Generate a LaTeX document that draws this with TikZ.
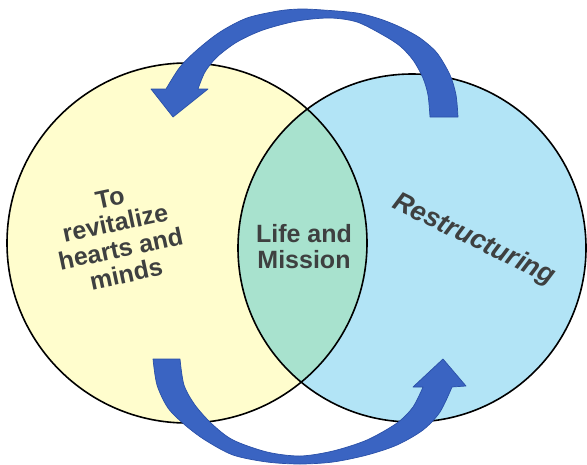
\documentclass[tikz,border=0pt]{standalone}
\usepackage{fontspec}
\setmainfont{Liberation Sans}
\usepackage{tikz}
\definecolor{leftfill}{RGB}{255,253,205}
\definecolor{rightfill}{RGB}{178,228,246}
\definecolor{lensfill}{RGB}{168,226,206}
\definecolor{textgray}{RGB}{62,64,64}
\definecolor{arrowblue}{RGB}{58,100,194}
\definecolor{arrowedge}{RGB}{42,80,168}

\begin{document}
\begin{tikzpicture}[x=1pt,y=-1pt,
		disc/.style={circle,inner sep=0pt},
		ringline/.style={draw=black,line width=1.6pt},
		venntext/.style={text=textgray,align=center,font=\bfseries\fontsize{25}{26}\selectfont},
		bluearrow/.style={fill=arrowblue,draw=arrowedge,line width=0.7pt,line join=round}]
			\useasboundingbox (0,0) rectangle (587,464);

			\node[disc,fill=leftfill,minimum size=360pt] (L) at (187,243) {};
			\node[disc,fill=rightfill,minimum size=348pt] (R) at (412,248) {};

			% overlap
			\begin{scope}
				\clip (L.center) circle (180);
				\fill[lensfill] (R.center) circle (174);
			\end{scope}

			\draw[ringline] (L.center) circle (180);
			\draw[ringline] (R.center) circle (174);

			% top arrow, right to left
			\path[bluearrow] plot[smooth] coordinates {(458,117) (456,95) (450,75) (437,53) (420,38) (400,27) (380,19) (357,13) (323,10) (300,9) (278,11) (247,18) (220,32) (197,50) (180,67) (166,89)}
				-- (151,89) -- (173,117) -- (208,89)
				-- plot[smooth] coordinates {(198,89) (205,72) (217,57) (237,42) (263,30) (297,21) (330,18) (357,22) (383,35) (400,46) (413,60) (423,78) (428,95) (430,117)}
				-- cycle;

			% bottom arrow, left to right
			\path[bluearrow] plot[smooth] coordinates {(153,359) (157,385) (168,408) (185,425) (205,440) (233,455) (267,462) (300,464) (333,462) (367,455) (397,445) (423,430) (440,412) (452,387)}
				-- (466,386) -- (443,359) -- (413,387)
				-- plot[smooth] coordinates {(423,387) (413,407) (397,423) (367,440) (333,451) (300,456) (267,452) (233,440) (212,424) (195,405) (184,385) (180,359)}
				-- cycle;

			\node[venntext,rotate=12] (revital) at (118,236) {To\\revitalize\\hearts and\\minds};
			\node[venntext] (life) at (304,247) {Life and\\Mission};
			\node[venntext,font=\bfseries\itshape\fontsize{27}{28}\selectfont,rotate=-26] (restruct) at (474,240) {Restructuring};
		\end{tikzpicture}
\end{document}
